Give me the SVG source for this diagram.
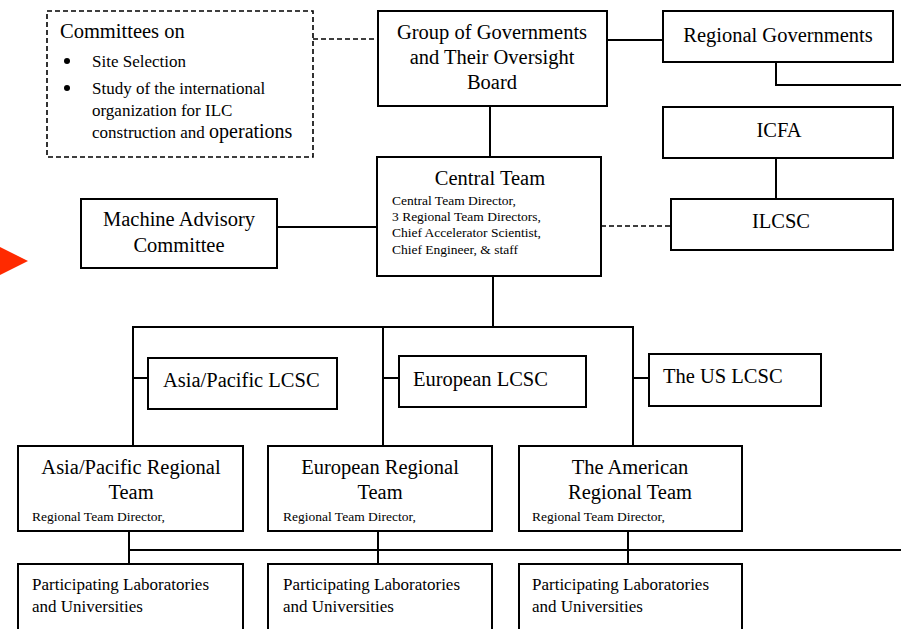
<svg xmlns="http://www.w3.org/2000/svg" width="901" height="629" viewBox="0 0 901 629">
<style>
  .box { fill: #fff; stroke: #000; stroke-width: 2; }
  .dbox { fill: #fff; stroke: #000; stroke-width: 1.6; stroke-dasharray: 5 3; }
  .ln { fill: none; stroke: #000; stroke-width: 2; }
  .dln { fill: none; stroke: #000; stroke-width: 1.6; stroke-dasharray: 5 3; }
  text { font-family: "Liberation Serif", "Times New Roman", serif; fill: #000; }
  .t { font-size: 20.5px; }
  .m { font-size: 17px; }
  .s { font-size: 13.5px; }
  .c { text-anchor: middle; }
</style>
<rect width="901" height="629" fill="#fff"/>
<g id="connectors">
  <path class="dln" d="M313 39 H378"/>
  <path class="ln" d="M607 40 H663"/>
  <path class="ln" d="M776 62 V85 H901"/>
  <path class="ln" d="M490 106 V157"/>
  <path class="ln" d="M776 158 V199"/>
  <path class="dln" d="M601 226 H671"/>
  <path class="ln" d="M277 227 H377"/>
  <path class="ln" d="M493 276 V327"/>
  <path class="ln" d="M133 446 V327 H633 V446"/>
  <path class="ln" d="M383 327 V446"/>
  <path class="ln" d="M133 378 H148"/>
  <path class="ln" d="M383 378 H399"/>
  <path class="ln" d="M633 378 H649"/>
  <path class="ln" d="M129 531 V564"/>
  <path class="ln" d="M378 531 V564"/>
  <path class="ln" d="M628 531 V564"/>
  <path class="ln" d="M129 550 H901"/>
</g>
<polygon id="pointer" points="0,247 28,261 0,275" fill="#ff2a00"/>
<g id="committees">
  <rect class="dbox" x="47" y="11" width="266" height="146"/>
  <text class="t" x="60" y="38">Committees on</text>
  <circle cx="67" cy="61" r="3" fill="#000"/>
  <circle cx="67" cy="88" r="3" fill="#000"/>
  <text class="m" x="92" y="67">Site Selection</text>
  <text class="m" x="92" y="94">Study of the international</text>
  <text class="m" x="92" y="116">organization for ILC</text>
  <text class="m" x="92" y="138">construction and <tspan style="font-size:20px">operations</tspan></text>
</g>
<g id="group-of-governments">
  <rect class="box" x="378" y="11" width="229" height="95"/>
  <text class="t c" x="492" y="39">Group of Governments</text>
  <text class="t c" x="492" y="64">and Their Oversight</text>
  <text class="t c" x="492" y="89">Board</text>
</g>
<g id="regional-governments">
  <rect class="box" x="663" y="11" width="230" height="51"/>
  <text class="t c" x="778" y="42">Regional Governments</text>
</g>
<g id="icfa">
  <rect class="box" x="663" y="107" width="230" height="51"/>
  <text class="t c" x="779" y="137">ICFA</text>
</g>
<g id="ilcsc">
  <rect class="box" x="671" y="199" width="222" height="51"/>
  <text class="t c" x="781" y="228">ILCSC</text>
</g>
<g id="central-team">
  <rect class="box" x="377" y="157" width="224" height="119"/>
  <text class="t c" x="490" y="185">Central Team</text>
  <text class="s" x="392" y="205">Central Team Director,</text>
  <text class="s" x="392" y="221">3 Regional Team Directors,</text>
  <text class="s" x="392" y="237">Chief Accelerator Scientist,</text>
  <text class="s" x="392" y="254">Chief Engineer, &amp; staff</text>
</g>
<g id="machine-advisory">
  <rect class="box" x="81" y="199" width="196" height="69"/>
  <text class="t c" x="179" y="226">Machine Advisory</text>
  <text class="t c" x="179" y="252">Committee</text>
</g>
<g id="asia-lcsc">
  <rect class="box" x="148" y="358" width="189" height="51"/>
  <text class="t" x="163" y="387">Asia/Pacific LCSC</text>
</g>
<g id="european-lcsc">
  <rect class="box" x="399" y="356" width="187" height="51"/>
  <text class="t" x="413" y="386">European LCSC</text>
</g>
<g id="us-lcsc">
  <rect class="box" x="649" y="354" width="172" height="52"/>
  <text class="t" x="663" y="383">The US LCSC</text>
</g>
<g id="asia-team">
  <rect class="box" x="18" y="446" width="225" height="85"/>
  <text class="t c" x="131" y="474">Asia/Pacific Regional</text>
  <text class="t c" x="131" y="499">Team</text>
  <text class="s" x="32" y="521">Regional Team Director,</text>
</g>
<g id="european-team">
  <rect class="box" x="268" y="446" width="224" height="85"/>
  <text class="t c" x="380" y="474">European Regional</text>
  <text class="t c" x="380" y="499">Team</text>
  <text class="s" x="283" y="521">Regional Team Director,</text>
</g>
<g id="american-team">
  <rect class="box" x="519" y="446" width="223" height="85"/>
  <text class="t c" x="630" y="474">The American</text>
  <text class="t c" x="630" y="499">Regional Team</text>
  <text class="s" x="532" y="521">Regional Team Director,</text>
</g>
<g id="asia-labs">
  <rect class="box" x="18" y="564" width="225" height="80"/>
  <text class="m" x="32" y="590">Participating Laboratories</text>
  <text class="m" x="32" y="612">and Universities</text>
</g>
<g id="european-labs">
  <rect class="box" x="268" y="564" width="224" height="80"/>
  <text class="m" x="283" y="590">Participating Laboratories</text>
  <text class="m" x="283" y="612">and Universities</text>
</g>
<g id="american-labs">
  <rect class="box" x="519" y="564" width="223" height="80"/>
  <text class="m" x="532" y="590">Participating Laboratories</text>
  <text class="m" x="532" y="612">and Universities</text>
</g>
</svg>
